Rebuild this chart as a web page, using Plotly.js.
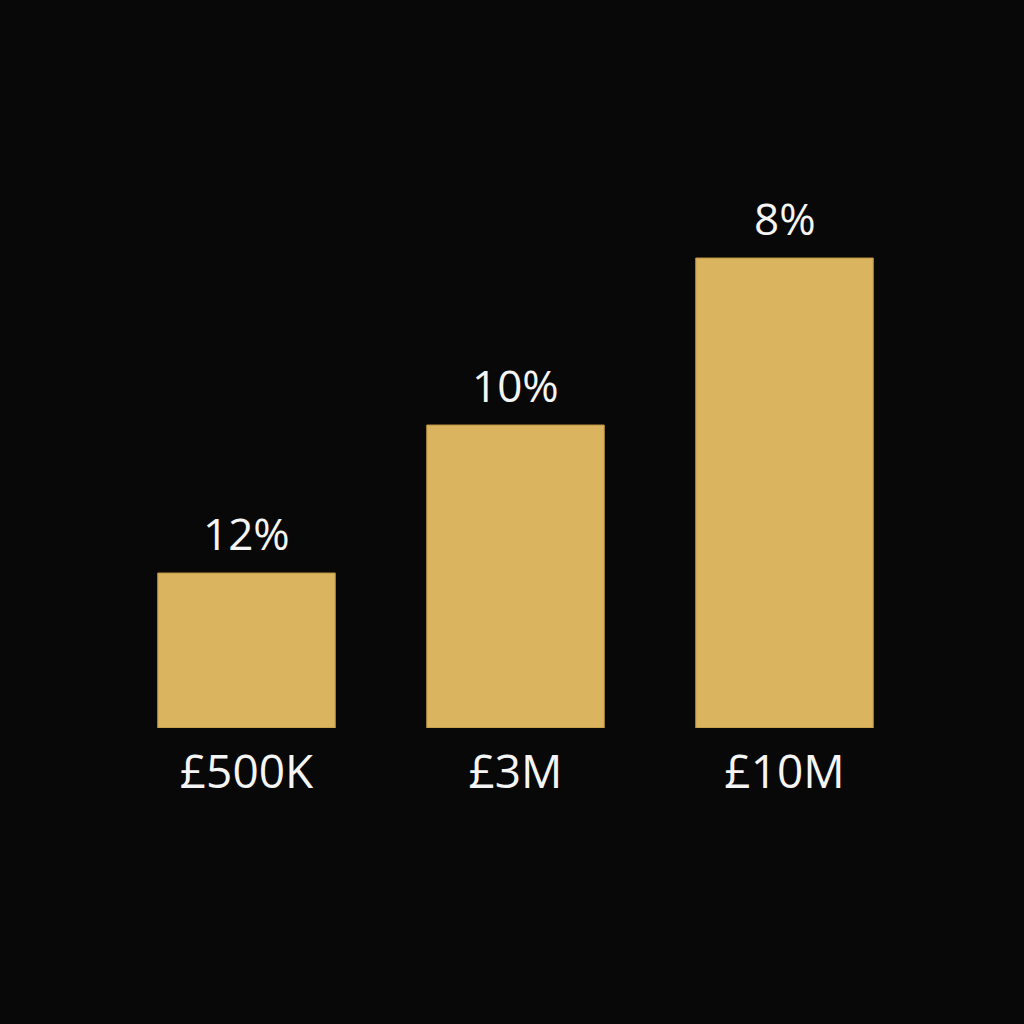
<!DOCTYPE html>
<html>
<head>
<meta charset="utf-8">
<script src="https://cdn.plot.ly/plotly-3.0.1.min.js"></script>
<style>html,body{margin:0;padding:0;background:#080808;}#chart{width:1024px;height:1024px;}</style>
</head>
<body>
<div id="chart"></div>
<script>
const categories = ['£500K', '£3M', '£10M'];
const barHeights = [155, 303, 470];
const rateLabels = ['12%', '10%', '8%'];

const trace = {
  type: 'bar',
  x: categories,
  y: barHeights,
  width: 0.66,
  marker: {
    color: '#dbb45f',
    line: {color: '#b8913f', width: 1}
  },
  hoverinfo: 'skip'
};

const annotations = categories.map((c, i) => ({
  x: c, y: barHeights[i], xref: 'x', yref: 'y',
  text: rateLabels[i], showarrow: false,
  yanchor: 'bottom', yshift: 8,
  font: {family: 'Open Sans', size: 44, color: '#f5f5f5'}
}));

const layout = {
  width: 1024, height: 1024,
  paper_bgcolor: '#080808', plot_bgcolor: '#080808',
  margin: {l: 112, r: 105, t: 228, b: 296},
  showlegend: false,
  xaxis: {
    type: 'category', range: [-0.5, 2.5],
    showgrid: false, zeroline: false, showline: false, ticks: '',
    ticklabelstandoff: 13,
    tickfont: {family: 'Open Sans', size: 46, color: '#f5f5f5'}
  },
  yaxis: {
    range: [0, 500], showgrid: false, zeroline: false, showline: false,
    showticklabels: false, ticks: ''
  },
  annotations: annotations
};

Plotly.newPlot('chart', [trace], layout, {staticPlot: true, displayModeBar: false});
</script>
</body>
</html>
